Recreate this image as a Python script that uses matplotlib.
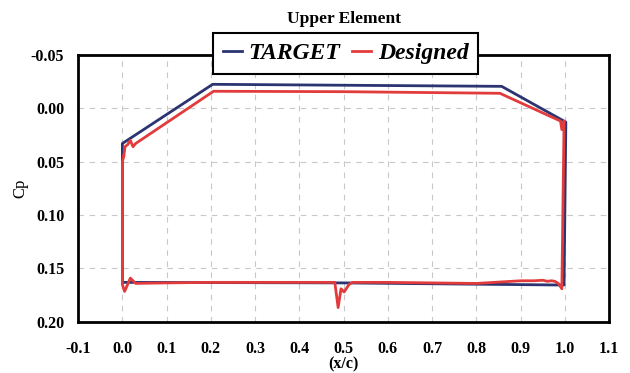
import matplotlib
matplotlib.use("Agg")
import matplotlib.pyplot as plt

# Cp distribution, upper element
target_x = [0.0, 0.0, 0.204, 0.857, 1.002, 0.998, 0.5, 0.01, 0.0]
target_cp = [0.163, 0.033, -0.0224, -0.0205, 0.013, 0.1655, 0.1635, 0.163, 0.163]

designed_x = [0.003, 0.006, 0.012, 0.018, 0.024, 0.03, 0.206, 0.5, 0.853,
              0.99, 0.993, 0.998, 0.993, 0.985, 0.977, 0.97, 0.96, 0.95,
              0.93, 0.9, 0.88, 0.8, 0.7, 0.6, 0.52, 0.512, 0.501, 0.494,
              0.4875, 0.48, 0.4, 0.3, 0.2, 0.1, 0.05, 0.03, 0.018, 0.005,
              0.0, 0.0, 0.003]
designed_cp = [0.045, 0.036, 0.034, 0.030, 0.036, 0.033, -0.0159, -0.0155, -0.014,
               0.012, 0.020, 0.012, 0.169, 0.164, 0.162, 0.1615, 0.162, 0.161,
               0.1615, 0.1615, 0.162, 0.164, 0.1635, 0.163, 0.163, 0.165, 0.172, 0.169,
               0.1866, 0.163, 0.163, 0.163, 0.163, 0.1635, 0.1638, 0.164, 0.159, 0.1715,
               0.165, 0.05, 0.045]

xticks = [-0.1, 0.0, 0.1, 0.2, 0.3, 0.4, 0.5, 0.6, 0.7, 0.8, 0.9, 1.0, 1.1]
yticks = [-0.05, 0.0, 0.05, 0.10, 0.15, 0.20]

plt.rcParams["font.family"] = "Liberation Serif"

fig = plt.figure(figsize=(6.3, 3.73), dpi=100)
ax = fig.add_axes([0.124, 0.137, 0.843, 0.716])

ax.plot(target_x, target_cp, color="#2b3470", lw=2, label="TARGET")
ax.plot(designed_x, designed_cp, color="#e23b3b", lw=2, label="Designed")

ax.set_xlim(-0.1, 1.1)
ax.set_ylim(0.20, -0.05)
ax.set_xticks(xticks)
ax.set_xticklabels([f"{v:.1f}" for v in xticks], fontweight="bold", fontsize=11.5)
ax.set_yticks(yticks)
ax.set_yticklabels([f"{v:.2f}" for v in yticks], fontweight="bold", fontsize=11.5)
ax.tick_params(axis="x", length=0, pad=14)
ax.tick_params(axis="y", length=0, pad=10)
ax.grid(True, color="#c8c8c8", ls=(0, (5, 5)), lw=0.8)

for s in ax.spines.values():
    s.set_linewidth(2)
    s.set_color("black")

ax.set_title("Upper Element", fontweight="bold", fontsize=12.5, pad=23)
ax.set_xlabel("(x/c)", fontweight="bold", fontsize=11.5, labelpad=-1)
ax.set_ylabel("Cp", fontsize=12, labelpad=2)

leg = ax.legend(loc="center", bbox_to_anchor=(0.504, 1.005), ncol=2,
                prop={"family": "Liberation Serif", "weight": "bold", "style": "italic", "size": 17},
                handlelength=0.8, handletextpad=0.3, columnspacing=0.5,
                fancybox=False, framealpha=1, borderpad=0.4)
leg.get_frame().set_edgecolor("black")
leg.get_frame().set_linewidth(1.5)

fig.savefig("out.png", dpi=100)
